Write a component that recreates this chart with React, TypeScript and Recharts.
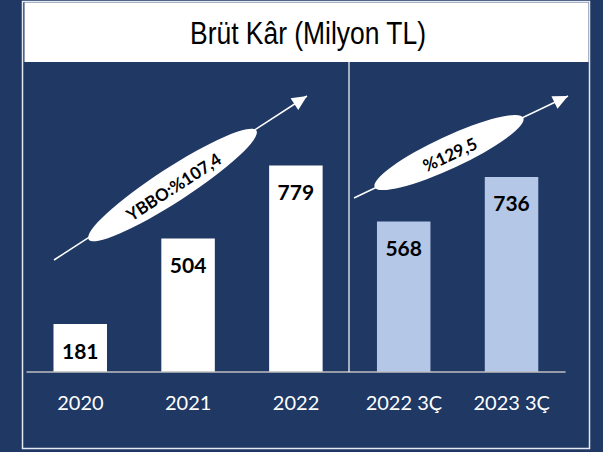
import { BarChart, Bar, XAxis, YAxis, Cell, LabelList } from "recharts";

const categories = ["2020", "2021", "2022", "2022 3Ç", "2023 3Ç"];
const brutKar = [181, 504, 779, 568, 736];
const barColors = ["#ffffff", "#ffffff", "#ffffff", "#b4c7e7", "#b4c7e7"];
const title = "Brüt Kâr (Milyon TL)";
const growthLabels = ["YBBO:%107,4", "%129,5"];

const data = categories.map((c, i) => ({ name: c, value: brutKar[i] }));

const NAVY = "#203864";
const ARIAL = "'Liberation Sans', Arial, sans-serif";
const SANS = "Lato, 'Open Sans', sans-serif";

function Tick(props: any) {
  const { x, y, payload } = props;
  return (
    <text x={x} y={y + 38} textAnchor="middle" fill="#ffffff" fontFamily={SANS} fontSize={20}>
      {payload.value}
    </text>
  );
}

function ValueLabel(props: any) {
  const { x, y, width, value } = props;
  return (
    <text x={x + width / 2} y={y + 34.5} textAnchor="middle" fill="#000000" fontFamily={SANS} fontWeight={700} fontSize={21}>
      {value}
    </text>
  );
}

function Growth(p: {
  x1: number; y1: number; x2: number; y2: number;
  cx: number; cy: number; rx: number; ry: number; angle: number; label: string;
}) {
  const ang = (Math.atan2(p.y2 - p.y1, p.x2 - p.x1) * 180) / Math.PI;
  return (
    <g>
      <line x1={p.x1} y1={p.y1} x2={p.x2} y2={p.y2} stroke="#ffffff" strokeWidth={1.5} />
      <g transform={`translate(${p.x2},${p.y2}) rotate(${ang})`}>
        <polygon points="0,0 -15,-7 -15,7" fill="#ffffff" />
      </g>
      <g transform={`translate(${p.cx},${p.cy}) rotate(${-p.angle})`}>
        <ellipse rx={p.rx} ry={p.ry} fill="#ffffff" />
        <text y={2} textAnchor="middle" dominantBaseline="central" fontFamily={SANS} fontWeight={700} fontSize={17} fill="#000000">
          {p.label}
        </text>
      </g>
    </g>
  );
}

export default function App() {
  return (
    <div style={{ position: "fixed", left: 0, top: 0, width: 603, height: 452, background: NAVY }}>
      <BarChart width={603} height={452} data={data} margin={{ top: 107, right: 37.4, bottom: 50, left: 26.5 }} barSize={53.5}>
        <XAxis dataKey="name" height={30} tickSize={0} tickMargin={0} tick={<Tick />} axisLine={{ stroke: "#bfbfbf", strokeWidth: 1.5 }} tickLine={false} />
        <YAxis hide domain={[0, 1000]} />
        <Bar dataKey="value" isAnimationActive={false}>
          {data.map((d, i) => (
            <Cell key={d.name} fill={barColors[i]} />
          ))}
          <LabelList dataKey="value" content={<ValueLabel />} />
        </Bar>
      </BarChart>
      <svg width={603} height={452} style={{ position: "absolute", left: 0, top: 0, pointerEvents: "none" }}>
        <rect x={22.5} y={1.5} width={567} height={447} fill="none" stroke="#e4e9f2" strokeWidth={1.5} />
        <rect x={24.5} y={2.5} width={564} height={59.5} fill="#ffffff" />
        <text x={308} y={44} textAnchor="middle" fontFamily={ARIAL} fontSize={31} fill="#000000" textLength={236} lengthAdjust="spacingAndGlyphs">
          {title}
        </text>
        <line x1={349} y1={62} x2={349} y2={372} stroke="#ffffff" strokeWidth={1.2} />
        <Growth x1={54} y1={260} x2={307} y2={96} cx={172.5} cy={185} rx={100} ry={17} angle={33} label={growthLabels[0]} />
        <Growth x1={354} y1={198} x2={568} y2={96} cx={449} cy={152.5} rx={82} ry={16} angle={25} label={growthLabels[1]} />
      </svg>
    </div>
  );
}
